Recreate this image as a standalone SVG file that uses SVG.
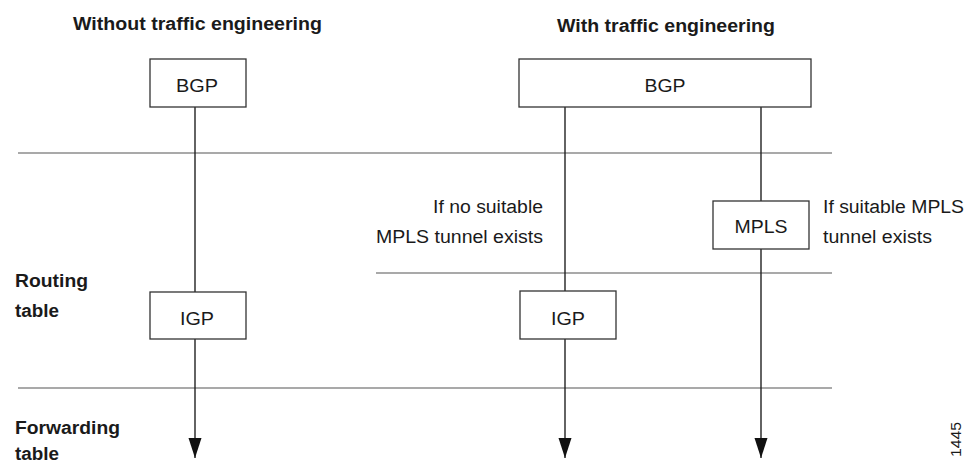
<svg xmlns="http://www.w3.org/2000/svg" width="973" height="463" viewBox="0 0 973 463">
<style>
text{font-family:"Liberation Sans Narrow","Liberation Sans",Arial,sans-serif;fill:#1a1a1a}
.t{font-size:18px}
.b{font-size:18px;font-weight:bold}
.box{fill:#fff;stroke:#333;stroke-width:1.3}
.sep{stroke:#555;stroke-width:1.2}
.flow{stroke:#222;stroke-width:1.4;fill:none}
</style>
<defs>
<marker id="arr" markerUnits="userSpaceOnUse" markerWidth="22" markerHeight="14" refX="20" refY="7" orient="auto" viewBox="0 0 22 14">
<path d="M0,0.5 L0,13.5 L20,7 Z" fill="#111"/>
</marker>
</defs>
<g id="headings">
<text class="b" x="73" y="30" textLength="249" lengthAdjust="spacingAndGlyphs">Without traffic engineering</text>
<text class="b" x="557" y="32" textLength="218" lengthAdjust="spacingAndGlyphs">With traffic engineering</text>
<text class="b" x="15" y="287" textLength="73" lengthAdjust="spacingAndGlyphs">Routing</text>
<text class="b" x="15" y="317" textLength="44" lengthAdjust="spacingAndGlyphs">table</text>
<text class="b" x="15" y="434" textLength="105" lengthAdjust="spacingAndGlyphs">Forwarding</text>
<text class="b" x="15" y="460" textLength="44" lengthAdjust="spacingAndGlyphs">table</text>
</g>
<g id="separators">
<line class="sep" x1="18" y1="153" x2="832" y2="153"/>
<line class="sep" x1="376" y1="273" x2="832" y2="273"/>
<line class="sep" x1="18" y1="388" x2="832" y2="388" stroke="#222"/>
</g>
<g id="connectors">
<line class="flow" x1="195" y1="107" x2="195" y2="292"/>
<line class="flow" x1="195" y1="339" x2="195" y2="458" marker-end="url(#arr)"/>
<line class="flow" x1="565" y1="107" x2="565" y2="291"/>
<line class="flow" x1="565" y1="339" x2="565" y2="458" marker-end="url(#arr)"/>
<line class="flow" x1="761" y1="107" x2="761" y2="201"/>
<line class="flow" x1="761" y1="249" x2="761" y2="458" marker-end="url(#arr)"/>
</g>
<g id="bgp-left">
<rect class="box" x="150" y="59" width="96" height="48"/>
<text class="t" x="197" y="92" text-anchor="middle" textLength="42" lengthAdjust="spacingAndGlyphs">BGP</text>
</g>
<g id="bgp-right">
<rect class="box" x="519" y="59" width="292" height="48"/>
<text class="t" x="665" y="92" text-anchor="middle" textLength="41" lengthAdjust="spacingAndGlyphs">BGP</text>
</g>
<g id="igp-left">
<rect class="box" x="150" y="292" width="96" height="47"/>
<text class="t" x="197" y="325" text-anchor="middle" textLength="34" lengthAdjust="spacingAndGlyphs">IGP</text>
</g>
<g id="igp-right">
<rect class="box" x="520" y="291" width="96" height="48"/>
<text class="t" x="568" y="325" text-anchor="middle" textLength="34" lengthAdjust="spacingAndGlyphs">IGP</text>
</g>
<g id="mpls">
<rect class="box" x="713" y="201" width="96" height="48"/>
<text class="t" x="761" y="233" text-anchor="middle" textLength="53" lengthAdjust="spacingAndGlyphs">MPLS</text>
</g>
<g id="labels">
<text class="t" x="543" y="213" text-anchor="end" textLength="110" lengthAdjust="spacingAndGlyphs">If no suitable</text>
<text class="t" x="543" y="243" text-anchor="end" textLength="167" lengthAdjust="spacingAndGlyphs">MPLS tunnel exists</text>
<text class="t" x="823" y="213" textLength="141" lengthAdjust="spacingAndGlyphs">If suitable MPLS</text>
<text class="t" x="823" y="243" textLength="109" lengthAdjust="spacingAndGlyphs">tunnel exists</text>
<text x="961" y="457" transform="rotate(-90 961 457)" textLength="35" lengthAdjust="spacingAndGlyphs" style="font-family:'Liberation Sans',Arial,sans-serif;font-size:15px">1445</text>
</g>
</svg>
